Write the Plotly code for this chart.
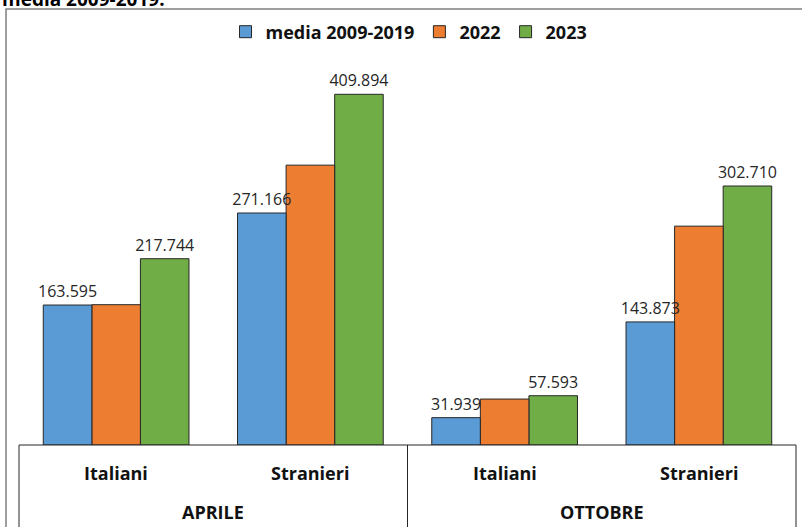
import plotly.graph_objects as go

# Arrivals by month and origin group
mesi = ["APRILE", "APRILE", "OTTOBRE", "OTTOBRE"]
gruppi = ["Italiani", "Stranieri", "Italiani", "Stranieri"]

serie = ["media 2009-2019", "2022", "2023"]
media_2009_2019 = [163595, 271166, 31939, 143873]
anno_2022 = [164000, 327100, 53700, 255800]
anno_2023 = [217744, 409894, 57593, 302710]

colori = ["#5B9BD5", "#ED7D31", "#70AD47"]
mostra_etichette = [True, False, True]

W, H = 802, 527
FONT = "'Open Sans', Lato, sans-serif"
BOLD = dict(family=FONT, size=18, color="#111111", weight="bold")

# bar slots inside each category (three side-by-side bars)
larghezza = 0.25
n_serie = len(serie)

fig = go.Figure()
tracce = []
for k, (nome, valori, colore, etich) in enumerate(
        zip(serie, [media_2009_2019, anno_2022, anno_2023], colori, mostra_etichette)):
    tracce.append(go.Bar(
        name=nome,
        legendrank=k + 1,
        x=[mesi, gruppi],
        y=valori,
        width=larghezza,
        offset=(k - n_serie / 2) * larghezza,
        marker=dict(color=colore, line=dict(color="#262626", width=1)),
        texttemplate="%{y:,.0f}" if etich else None,
        textposition="outside" if etich else "none",
        constraintext="none",
        textfont=dict(family=FONT, size=16, color="#262626"),
        cliponaxis=False,
    ))
# paint right-to-left so each value label sits above the neighbouring bar
for t in reversed(tracce):
    fig.add_trace(t)

# plot area in pixels
x0, x1 = 19, 796
y_base, y_top = 445, 60
y_max = 450000

fig.update_layout(
    width=W, height=H,
    margin=dict(l=0, r=0, t=0, b=0),
    paper_bgcolor="white",
    plot_bgcolor="white",
    separators=",.",
    barmode="overlay",
    showlegend=True,
    legend=dict(
        orientation="h",
        x=0.51, xanchor="center",
        y=(H - 32) / H, yanchor="middle",
        font=BOLD,
        itemwidth=30,
    ),
    xaxis=dict(
        domain=[x0 / W, x1 / W],
        range=[-0.5, 3.5],
        showgrid=False,
        showline=False,
        ticks="",
        showdividers=False,
        showticklabels=False,
    ),
    yaxis=dict(
        domain=[(H - y_base) / H, (H - y_top) / H],
        range=[0, y_max],
        visible=False,
    ),
    font=dict(family=FONT),
)

# category labels in the band under the bars
n = len(gruppi)
step = (x1 - x0) / n
for i, g in enumerate(gruppi):
    fig.add_annotation(text=g, xref="paper", yref="paper",
                       x=(x0 + (i + 0.5) * step) / W, y=(H - 473) / H,
                       xanchor="center", yanchor="middle", showarrow=False, font=BOLD)
mesi_unici = list(dict.fromkeys(mesi))
for m in mesi_unici:
    idx = [i for i, v in enumerate(mesi) if v == m]
    centro = x0 + (sum(idx) / len(idx) + 0.5) * step
    fig.add_annotation(text=m, xref="paper", yref="paper",
                       x=centro / W, y=(H - 512) / H,
                       xanchor="center", yanchor="middle", showarrow=False, font=BOLD)

# boxed category band
linea = dict(color="#262626", width=1)
fig.add_shape(type="line", xref="paper", yref="paper",
              x0=x0 / W, x1=x1 / W, y0=(H - y_base) / H, y1=(H - y_base) / H, line=linea)
for xp in [x0, (x0 + x1) / 2, x1]:
    fig.add_shape(type="line", xref="paper", yref="paper",
                  x0=xp / W, x1=xp / W, y0=(H - y_base) / H, y1=-0.05, line=linea)

# outer chart frame
fig.add_shape(type="rect", xref="paper", yref="paper",
              x0=6 / W, x1=1.05, y0=(H - 9) / H, y1=-0.05,
              line=dict(color="#7f7f7f", width=1.5), fillcolor="rgba(0,0,0,0)", layer="below")

# tail of the heading above the frame
fig.add_annotation(text="media 2009-2019.", xref="paper", yref="paper",
                   x=0, xanchor="left", y=(H + 1) / H, yanchor="middle",
                   showarrow=False,
                   font=dict(family=FONT, size=19, color="#000000", weight="bold"))

fig.write_html("out.html")
